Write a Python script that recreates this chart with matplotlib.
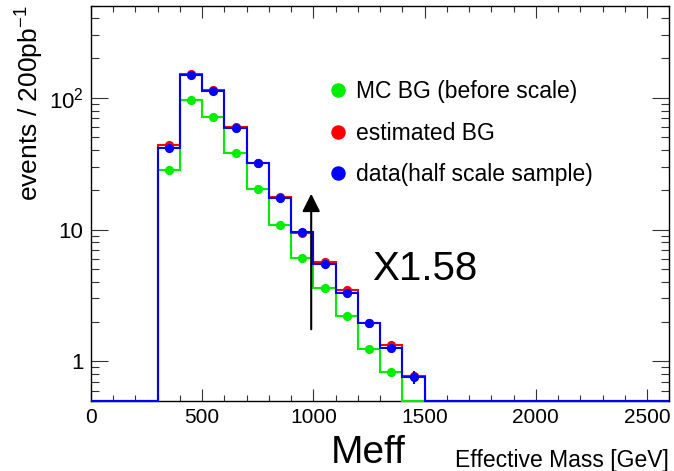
import numpy as np
import matplotlib
matplotlib.use("Agg")
import matplotlib.pyplot as plt
from matplotlib.lines import Line2D
from matplotlib.ticker import FixedLocator, FixedFormatter, LogLocator, MultipleLocator, NullFormatter

plt.rcParams["font.family"] = ["Liberation Sans", "DejaVu Sans"]
plt.rcParams["mathtext.fontset"] = "custom"
plt.rcParams["mathtext.rm"] = "Liberation Sans"
plt.rcParams["mathtext.it"] = "Liberation Sans:italic"

# 100 GeV bins from 0 to 2600 GeV, empty bins are zero
edges = np.arange(0, 2700, 100)
mc_before = [0, 0, 0, 28.1, 96, 72, 38.4, 20.3, 10.9, 6.1, 3.58, 2.21, 1.24, 0.834,
             0, 0, 0, 0, 0, 0, 0, 0, 0, 0, 0, 0]
estimated = [0, 0, 0, 43.7, 152, 114, 60.4, 32.2, 17.6, 9.4, 5.7, 3.48, 1.97, 1.335,
             0.77, 0, 0, 0, 0, 0, 0, 0, 0, 0, 0, 0]
data_half = [0, 0, 0, 41.4, 148.5, 112, 59, 31.9, 17.4, 9.66, 5.5, 3.32, 1.97, 1.27,
             0.757, 0, 0, 0, 0, 0, 0, 0, 0, 0, 0, 0]
data_err = [0, 0, 0, 1.0, 1.9, 1.6, 1.2, 0.9, 0.6, 0.4, 0.3, 0.2, 0.12, 0.08,
            0.088, 0, 0, 0, 0, 0, 0, 0, 0, 0, 0, 0]

labels = ["MC BG (before scale)", "estimated BG", "data(half scale sample)"]
colors = ["#00ee00", "#ff0000", "#0000ff"]

ymin, ymax = 0.5, 500
arrow_x, arrow_y0, arrow_y1 = 990, 1.75, 18.7
scale_text = "X1.58"

fig = plt.figure(figsize=(6.74, 4.71), dpi=100)
ax = fig.add_axes([91 / 674, 70 / 471, 578.3 / 674, 395.3 / 471])
ax.set_yscale("log")
ax.set_xlim(0, 2600)
ax.set_ylim(ymin, ymax)

centers = 0.5 * (edges[:-1] + edges[1:])
series = [mc_before, estimated, data_half]
for vals, c in zip(series, colors):
    v = np.array(vals, dtype=float)
    ax.stairs(np.clip(v, ymin, None), edges, color=c, lw=1.5, baseline=None,
              clip_on=False, zorder=3)
for vals, c in zip(series[:2], colors[:2]):
    v = np.array(vals, dtype=float)
    m = v > 0
    ax.plot(centers[m], v[m], "o", color=c, ms=5.6, zorder=4)
v = np.array(data_half, dtype=float)
m = v > 0
ax.errorbar(centers[m], v[m], yerr=np.array(data_err)[m], fmt="o", color=colors[2],
            ms=5.6, elinewidth=1.5, capsize=0, zorder=5)

ax.annotate("", xy=(arrow_x, arrow_y1), xytext=(arrow_x, arrow_y0),
            arrowprops=dict(arrowstyle="-|>,head_length=0.54,head_width=0.27",
                            mutation_scale=20, color="black", lw=1.5,
                            shrinkA=0, shrinkB=0))
ax.text(1262, 4.14, scale_text, fontsize=29, va="baseline", ha="left")

handles = [Line2D([], [], marker="o", ls="none", color=c, ms=9.4) for c in colors]
ax.legend(handles, labels, loc="upper left", bbox_to_anchor=(0.4117, 0.8108),
          frameon=False, fontsize=16.5, handlelength=0.8, handletextpad=0.39,
          labelspacing=0.8, borderpad=0, borderaxespad=0)

# ROOT style ticks: inside, on all four sides
ax.xaxis.set_major_locator(MultipleLocator(500))
ax.xaxis.set_minor_locator(MultipleLocator(100))
ax.yaxis.set_major_locator(FixedLocator([1, 10, 100]))
ax.yaxis.set_major_formatter(FixedFormatter(["1", "10", r"$10^{2}$"]))
ax.yaxis.set_minor_locator(LogLocator(base=10, subs=np.arange(2, 10)))
ax.yaxis.set_minor_formatter(NullFormatter())
ax.tick_params(axis="both", which="both", direction="in", top=True, right=True,
               width=0.8, color="#333333")
ax.tick_params(axis="x", which="major", length=8.6, pad=5, labelsize=15)
ax.tick_params(axis="x", which="minor", length=4.3)
ax.tick_params(axis="y", which="major", length=12.2, pad=5.5, labelsize=16)
ax.tick_params(axis="y", which="minor", length=5.8)
for s in ax.spines.values():
    s.set_linewidth(1.0)

ax.set_ylabel(r"events / 200pb$^{-1}$", fontsize=19, loc="top")
ax.yaxis.set_label_coords(-0.077, 1.0)
ax.set_xlabel("Effective Mass [GeV]", fontsize=16.5, loc="right", va="baseline")
ax.xaxis.set_label_coords(1.0, -0.1657)
fig.text(368.5 / 674, 1 - 463 / 471, "Meff", fontsize=28, ha="center", va="baseline")

fig.savefig("out.png", dpi=100)
